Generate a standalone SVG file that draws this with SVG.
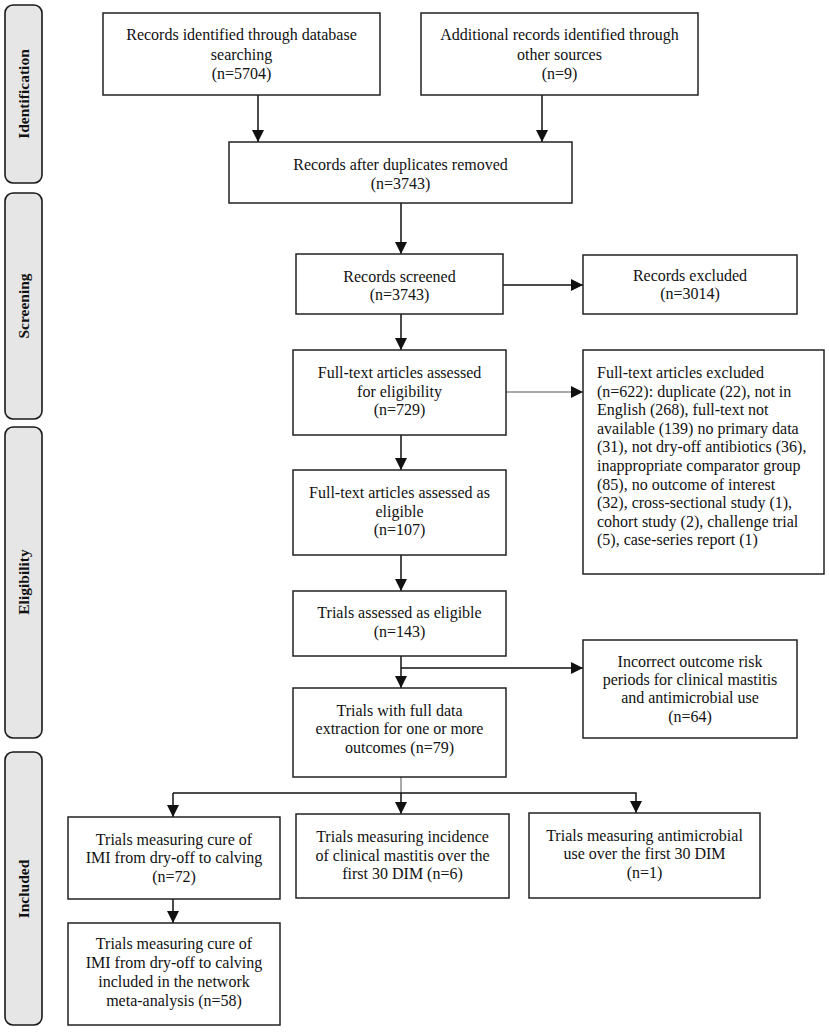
<svg xmlns="http://www.w3.org/2000/svg" width="829" height="1032" viewBox="0 0 829 1032">
<style>
.bx{fill:#fff;stroke:#222;stroke-width:1.5}
.bar{fill:#e6e6e6;stroke:#1a1a1a;stroke-width:1.6}
.t{font-family:"Liberation Serif","Times New Roman",serif;font-size:16px;fill:#111;text-anchor:middle}
.tl{font-family:"Liberation Serif","Times New Roman",serif;font-size:16px;fill:#111;text-anchor:start}
.lab{font-family:"Liberation Serif","Times New Roman",serif;font-size:15.5px;font-weight:bold;fill:#111;text-anchor:middle}
.ln{fill:none;stroke:#111;stroke-width:1.5}
.ln2{fill:none;stroke:#555;stroke-width:1}
</style>
<defs>
<marker id="ah2" viewBox="0 0 10 10" refX="10" refY="5" markerWidth="12" markerHeight="12" markerUnits="userSpaceOnUse" orient="auto">
<path d="M0,0 L10,5 L0,10 z" fill="#111"/>
</marker>
</defs>

<g id="phase-identification">
<rect class="bar" x="5" y="5" width="37" height="178" rx="8"/>
<text class="lab" transform="translate(28.5,94) rotate(-90)">Identification</text>
</g>
<g id="phase-screening">
<rect class="bar" x="5" y="193" width="37" height="226" rx="8"/>
<text class="lab" transform="translate(28.5,306) rotate(-90)">Screening</text>
</g>
<g id="phase-eligibility">
<rect class="bar" x="5" y="427" width="37" height="311" rx="8"/>
<text class="lab" transform="translate(28.5,582) rotate(-90)">Eligibility</text>
</g>
<g id="phase-included">
<rect class="bar" x="5" y="752" width="37" height="273" rx="8"/>
<text class="lab" transform="translate(28.5,889) rotate(-90)">Included</text>
</g>

<g id="connectors">
<line class="ln" x1="258" y1="95" x2="258" y2="142" marker-end="url(#ah2)"/>
<line class="ln" x1="542" y1="95" x2="542" y2="142" marker-end="url(#ah2)"/>
<line class="ln" x1="401" y1="203" x2="401" y2="254" marker-end="url(#ah2)"/>
<line class="ln" x1="503" y1="285" x2="583" y2="285" marker-end="url(#ah2)"/>
<line class="ln" x1="401" y1="314" x2="401" y2="350" marker-end="url(#ah2)"/>
<line class="ln2" x1="506" y1="392" x2="583" y2="392" marker-end="url(#ah2)"/>
<line class="ln" x1="401" y1="435" x2="401" y2="470" marker-end="url(#ah2)"/>
<line class="ln" x1="401" y1="555" x2="401" y2="591" marker-end="url(#ah2)"/>
<line class="ln" x1="401" y1="656" x2="401" y2="688" marker-end="url(#ah2)"/>
<line class="ln" x1="401" y1="668" x2="583" y2="668" marker-end="url(#ah2)"/>
<line class="ln2" x1="401" y1="777" x2="401" y2="793"/>
<polyline class="ln" points="173,793 636,793 636,813" marker-end="url(#ah2)"/>
<line class="ln" x1="173" y1="793" x2="173" y2="817" marker-end="url(#ah2)"/>
<line class="ln" x1="401" y1="793" x2="401" y2="814" marker-end="url(#ah2)"/>
<line class="ln" x1="173" y1="899" x2="173" y2="923" marker-end="url(#ah2)"/>
</g>

<g id="n1">
<rect class="bx" x="103" y="13" width="277" height="82"/>
<text class="t" x="241.5" y="40">Records identified through database</text>
<text class="t" x="241.5" y="60">searching</text>
<text class="t" x="241.5" y="79">(n=5704)</text>
</g>
<g id="n2">
<rect class="bx" x="421" y="13" width="277" height="82"/>
<text class="t" x="559.5" y="40">Additional records identified through</text>
<text class="t" x="559.5" y="60">other sources</text>
<text class="t" x="559.5" y="79">(n=9)</text>
</g>
<g id="n3">
<rect class="bx" x="229" y="142" width="343" height="61"/>
<text class="t" x="400.5" y="170">Records after duplicates removed</text>
<text class="t" x="400.5" y="189">(n=3743)</text>
</g>
<g id="n4">
<rect class="bx" x="296" y="254" width="207" height="60"/>
<text class="t" x="399.5" y="282">Records screened</text>
<text class="t" x="399.5" y="300">(n=3743)</text>
</g>
<g id="n5">
<rect class="bx" x="583" y="255" width="214" height="59"/>
<text class="t" x="690" y="281">Records excluded</text>
<text class="t" x="690" y="299">(n=3014)</text>
</g>
<g id="n6">
<rect class="bx" x="293" y="350" width="213" height="85"/>
<text class="t" x="399.5" y="378">Full-text articles assessed</text>
<text class="t" x="399.5" y="397">for eligibility</text>
<text class="t" x="399.5" y="415">(n=729)</text>
</g>
<g id="n7">
<rect class="bx" x="583" y="350" width="241" height="224"/>
<text class="tl" x="597" y="378">Full-text articles excluded</text>
<text class="tl" x="597" y="396.6">(n=622): duplicate (22), not in</text>
<text class="tl" x="597" y="415.2">English (268), full-text not</text>
<text class="tl" x="597" y="433.8">available (139) no primary data</text>
<text class="tl" x="597" y="452.4">(31), not dry-off antibiotics (36),</text>
<text class="tl" x="597" y="471">inappropriate comparator group</text>
<text class="tl" x="597" y="489.6">(85), no outcome of interest</text>
<text class="tl" x="597" y="508.2">(32), cross-sectional study (1),</text>
<text class="tl" x="597" y="526.8">cohort study (2), challenge trial</text>
<text class="tl" x="597" y="545.4">(5), case-series report (1)</text>
</g>
<g id="n8">
<rect class="bx" x="293" y="470" width="213" height="85"/>
<text class="t" x="399.5" y="498">Full-text articles assessed as</text>
<text class="t" x="399.5" y="517">eligible</text>
<text class="t" x="399.5" y="535">(n=107)</text>
</g>
<g id="n9">
<rect class="bx" x="293" y="591" width="213" height="65"/>
<text class="t" x="399.5" y="618">Trials assessed as eligible</text>
<text class="t" x="399.5" y="637">(n=143)</text>
</g>
<g id="n10">
<rect class="bx" x="583" y="640" width="214" height="98"/>
<text class="t" x="690" y="667">Incorrect outcome risk</text>
<text class="t" x="690" y="685">periods for clinical mastitis</text>
<text class="t" x="690" y="703">and antimicrobial use</text>
<text class="t" x="690" y="722">(n=64)</text>
</g>
<g id="n11">
<rect class="bx" x="293" y="688" width="213" height="89"/>
<text class="t" x="399.5" y="716">Trials with full data</text>
<text class="t" x="399.5" y="734">extraction for one or more</text>
<text class="t" x="399.5" y="753">outcomes (n=79)</text>
</g>
<g id="n12">
<rect class="bx" x="68" y="817" width="212" height="82"/>
<text class="t" x="174" y="845">Trials measuring cure of</text>
<text class="t" x="174" y="863">IMI from dry-off to calving</text>
<text class="t" x="174" y="882">(n=72)</text>
</g>
<g id="n13">
<rect class="bx" x="296" y="814" width="213" height="84"/>
<text class="t" x="402.5" y="842">Trials measuring incidence</text>
<text class="t" x="402.5" y="861">of clinical mastitis over the</text>
<text class="t" x="402.5" y="879">first 30 DIM (n=6)</text>
</g>
<g id="n14">
<rect class="bx" x="529" y="813" width="231" height="85"/>
<text class="t" x="644.5" y="841">Trials measuring antimicrobial</text>
<text class="t" x="644.5" y="859">use over the first 30 DIM</text>
<text class="t" x="644.5" y="878">(n=1)</text>
</g>
<g id="n15">
<rect class="bx" x="68" y="923" width="212" height="102"/>
<text class="t" x="174" y="949">Trials measuring cure of</text>
<text class="t" x="174" y="968">IMI from dry-off to calving</text>
<text class="t" x="174" y="987">included in the network</text>
<text class="t" x="174" y="1006">meta-analysis (n=58)</text>
</g>
</svg>
